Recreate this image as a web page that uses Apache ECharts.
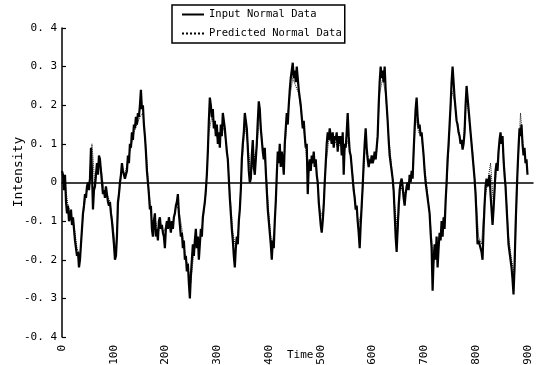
<!DOCTYPE html>
<html>
<head>
<meta charset="utf-8">
<script src="https://cdn.jsdelivr.net/npm/echarts@6/dist/echarts.min.js"></script>
<style>html,body{margin:0;padding:0;background:#fff;}#chart{width:537px;height:365px;}</style>
</head>
<body>
<div id="chart"></div>
<script>
// Readings of the input curve, one per ~1.93 time units, starting at t = 0
const inputStep = 1.93;
const inputValues = [
 0.03,0.02,-0.02,0.02,-0.05,-0.08,-0.06,-0.1,-0.09,-0.07,
 -0.11,-0.09,-0.12,-0.15,-0.17,-0.19,-0.18,-0.22,-0.2,-0.16,
 -0.12,-0.08,-0.06,-0.03,-0.04,-0.01,0.0,-0.02,0.01,0.09,
 0.03,-0.07,-0.02,-0.01,0.02,0.05,0.02,0.07,0.06,0.03,
 0.0,-0.03,-0.02,-0.04,-0.01,-0.03,-0.05,-0.06,-0.05,-0.08,
 -0.1,-0.13,-0.16,-0.2,-0.19,-0.14,-0.05,-0.03,0.0,0.02,
 0.05,0.03,0.03,0.01,0.02,0.03,0.07,0.05,0.1,0.09,
 0.13,0.11,0.15,0.14,0.17,0.15,0.18,0.17,0.2,0.24,
 0.19,0.2,0.15,0.12,0.08,0.03,0.0,-0.03,-0.07,-0.06,
 -0.12,-0.14,-0.1,-0.08,-0.14,-0.12,-0.15,-0.1,-0.09,-0.12,
 -0.11,-0.13,-0.14,-0.17,-0.12,-0.1,-0.12,-0.09,-0.11,-0.13,
 -0.1,-0.12,-0.09,-0.08,-0.06,-0.05,-0.03,-0.08,-0.11,-0.14,
 -0.13,-0.17,-0.15,-0.2,-0.19,-0.23,-0.21,-0.26,-0.3,-0.24,
 -0.2,-0.16,-0.19,-0.15,-0.12,-0.17,-0.14,-0.2,-0.16,-0.12,
 -0.14,-0.09,-0.07,-0.05,-0.02,0.02,0.08,0.16,0.22,0.2,
 0.17,0.19,0.14,0.16,0.12,0.15,0.1,0.13,0.09,0.15,
 0.12,0.18,0.16,0.14,0.11,0.08,0.06,0.01,-0.04,-0.08,
 -0.12,-0.15,-0.19,-0.22,-0.17,-0.14,-0.16,-0.1,-0.07,-0.02,
 0.06,0.1,0.13,0.18,0.16,0.14,0.09,0.03,0.0,0.01,
 0.07,0.11,0.04,0.02,0.06,0.1,0.16,0.21,0.19,0.14,
 0.11,0.08,0.06,0.09,0.03,-0.02,-0.07,-0.1,-0.13,-0.16,
 -0.2,-0.15,-0.17,-0.1,-0.05,0.02,0.08,0.05,0.1,0.04,
 0.08,0.06,0.02,0.1,0.14,0.18,0.15,0.2,0.24,0.27,
 0.29,0.31,0.27,0.29,0.26,0.3,0.27,0.24,0.22,0.2,
 0.17,0.14,0.16,0.12,0.09,0.1,-0.03,0.04,0.06,0.03,
 0.07,0.05,0.08,0.04,0.06,0.02,0.0,-0.05,-0.08,-0.11,
 -0.13,-0.1,-0.06,0.0,0.05,0.1,0.13,0.11,0.14,0.12,
 0.1,0.13,0.09,0.12,0.11,0.13,0.08,0.12,0.1,0.12,
 0.07,0.13,0.02,0.1,0.09,0.13,0.18,0.12,0.08,0.07,
 0.04,0.01,-0.02,-0.04,-0.07,-0.06,-0.1,-0.13,-0.17,-0.11,
 -0.06,-0.01,0.05,0.1,0.14,0.09,0.06,0.04,0.06,0.05,
 0.07,0.05,0.06,0.08,0.06,0.09,0.12,0.2,0.26,0.3,
 0.27,0.29,0.26,0.3,0.24,0.2,0.16,0.11,0.07,0.05,
 0.03,0.01,-0.02,-0.08,-0.14,-0.18,-0.12,-0.06,-0.02,0.0,
 0.01,-0.01,-0.04,-0.06,-0.03,-0.01,0.0,-0.02,0.02,0.0,
 0.03,0.01,0.08,0.14,0.19,0.22,0.17,0.14,0.15,0.12,
 0.13,0.1,0.07,0.03,0.0,-0.02,-0.04,-0.06,-0.08,-0.13,
 -0.17,-0.28,-0.2,-0.16,-0.2,-0.14,-0.22,-0.17,-0.13,-0.15,
 -0.1,-0.14,-0.09,-0.12,-0.05,0.0,0.06,0.1,0.15,0.2,
 0.26,0.3,0.26,0.22,0.19,0.16,0.15,0.13,0.12,0.1,
 0.11,0.085,0.1,0.13,0.2,0.25,0.22,0.19,0.16,0.13,
 0.1,0.07,0.04,0.01,-0.03,-0.09,-0.16,-0.15,-0.16,-0.17,
 -0.18,-0.2,-0.12,-0.06,-0.01,0.01,-0.01,0.0,0.02,-0.03,
 -0.07,-0.11,-0.07,-0.02,0.03,0.05,0.03,0.08,0.11,0.13,
 0.1,0.12,0.06,0.02,-0.01,-0.06,-0.11,-0.16,-0.18,-0.2,
 -0.22,-0.25,-0.29,-0.22,-0.12,-0.04,0.03,0.09,0.14,0.12,
 0.15,0.1,0.07,0.09,0.05,0.06,0.02
];
// Readings of the predicted curve, one per ~5.79 time units, starting at t = 0
const predStep = 5.79;
const predictedValues = [
 0.02,0.0,-0.06,-0.08,-0.11,-0.17,-0.19,-0.09,-0.03,-0.01,
 0.1,-0.01,0.05,0.04,-0.02,-0.03,-0.05,-0.11,-0.18,-0.04,
 0.04,0.02,0.06,0.09,0.13,0.15,0.17,0.18,0.09,-0.02,
 -0.1,-0.09,-0.13,-0.11,-0.13,-0.1,-0.1,-0.11,-0.06,-0.07,
 -0.12,-0.18,-0.22,-0.26,-0.18,-0.15,-0.15,-0.1,-0.03,0.13,
 0.17,0.14,0.11,0.13,0.14,0.09,-0.02,-0.13,-0.17,-0.11,
 0.04,0.15,0.1,0.02,0.06,0.09,0.18,0.09,0.04,-0.08,
 -0.17,-0.11,0.06,0.05,0.04,0.16,0.22,0.27,0.25,0.23,
 0.17,0.12,0.02,0.04,0.06,0.03,-0.07,-0.09,0.04,0.11,
 0.11,0.11,0.09,0.1,0.07,0.11,0.09,0.02,-0.06,-0.11,
 -0.07,0.08,0.07,0.05,0.06,0.08,0.23,0.27,0.23,0.12,
 0.04,-0.06,-0.13,-0.01,-0.03,-0.02,0.01,0.02,0.17,0.13,
 0.12,0.04,-0.03,-0.11,-0.21,-0.15,-0.14,-0.12,-0.06,0.08,
 0.24,0.21,0.14,0.11,0.11,0.23,0.15,0.08,-0.02,-0.14,
 -0.16,-0.05,0.0,0.05,-0.06,0.04,0.1,0.11,0.0,-0.14,
 -0.2,-0.24,0.02,0.18,0.08,0.05
];
const xTicks = [0,100,200,300,400,500,600,700,800,900];
const yTicks = [-0.4,-0.3,-0.2,-0.1,0,0.1,0.2,0.3,0.4];
const seriesNames = ['Input Normal Data','Predicted Normal Data'];

const FONT = '"DejaVu Sans Mono", monospace';
const chart = echarts.init(document.getElementById('chart'), null, {renderer:'canvas'});
chart.setOption({
  animation: false,
  backgroundColor: '#fff',
  color: ['#000', '#000'],
  textStyle: {fontFamily: FONT, color: '#000'},
  grid: {left: 62, right: 4, top: 28, bottom: 28, containLabel: false, outerBoundsMode: 'none'},
  legend: {
    left: 172, top: 5, orient: 'vertical',
    data: seriesNames,
    itemWidth: 22, itemHeight: 10, itemGap: 8,
    padding: [4, 3, 4, 9],
    borderColor: '#000', borderWidth: 1.5,
    itemStyle: {opacity: 0},
    textStyle: {fontFamily: FONT, fontSize: 10.5, color: '#000'}
  },
  graphic: [
    {
      type: 'text', left: 287, top: 350,
      style: {text: 'Time', font: '11px ' + FONT, fill: '#000'}
    },
    {
      type: 'text', x: 19, y: 172, rotation: Math.PI / 2,
      style: {text: 'Intensity', font: '13px ' + FONT, fill: '#000', align: 'center', verticalAlign: 'middle'}
    }
  ],
  xAxis: {
    type: 'value', min: xTicks[0], max: 910, interval: 100,
    axisLine: {onZero: true, lineStyle: {color: '#000', width: 1.5}},
    axisTick: {show: false},
    splitLine: {show: false},
    axisLabel: {
      rotate: 90, margin: 8, fontSize: 11, color: '#000', fontFamily: FONT,
      showMaxLabel: false,
      formatter: v => xTicks.indexOf(v) >= 0 ? String(v) : ''
    }
  },
  yAxis: {
    type: 'value', min: yTicks[0], max: yTicks[yTicks.length-1], interval: 0.1,
    axisLine: {show: true, onZero: false, lineStyle: {color: '#000', width: 1.5}},
    axisTick: {show: true, inside: true, length: 4, lineStyle: {color: '#000', width: 1.2}},
    splitLine: {show: false},
    axisLabel: {
      margin: 5, fontSize: 11, color: '#000', fontFamily: FONT,
      formatter: v => {
        const r = Math.round(v * 10) / 10;
        if (r === 0) return '0';
        return r.toFixed(1).replace('.', '. ');
      }
    }
  },
  series: [
    {
      name: seriesNames[0], type: 'line', symbol: 'none', z: 2,
      itemStyle: {color: '#000'},
      data: inputValues.map((v, i) => [i * inputStep, v]),
      lineStyle: {color: '#000', width: 2.2}
    },
    {
      name: seriesNames[1], type: 'line', symbol: 'none', z: 3,
      itemStyle: {color: '#000'},
      data: predictedValues.map((v, i) => [i * predStep, v]),
      lineStyle: {color: '#000', width: 1, type: 'dotted'}
    }
  ]
});
</script>
</body>
</html>
